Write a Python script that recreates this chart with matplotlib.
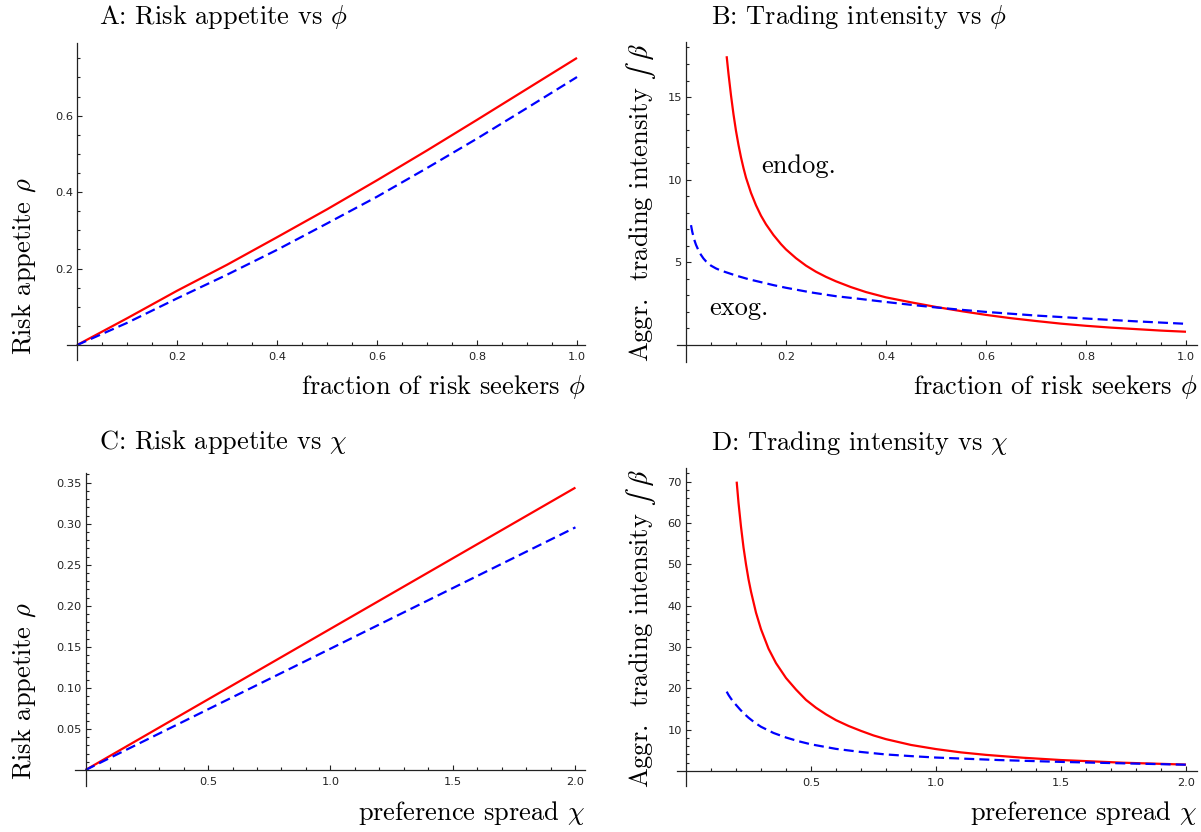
import matplotlib
matplotlib.use("Agg")
import matplotlib.pyplot as plt
from matplotlib.ticker import FixedLocator

plt.rcParams['mathtext.fontset'] = 'cm'

# ---------------- data ----------------
# Panel A: risk appetite vs phi
phi_A = [0.0, 0.1, 0.2, 0.3, 0.4, 0.5, 0.6, 0.7, 0.8, 0.9, 1.0]
rhoA_endog = [0.0, 0.070, 0.142, 0.210, 0.282, 0.355, 0.431, 0.509, 0.589, 0.670, 0.751]
rhoA_exog = [0.0, 0.058, 0.122, 0.184, 0.249, 0.318, 0.388, 0.463, 0.540, 0.620, 0.701]

# Panel B: trading intensity vs phi
phi_B_endog = [0.0813, 0.085, 0.09, 0.095, 0.10, 0.105, 0.11, 0.115, 0.12, 0.13, 0.14,
               0.15, 0.16, 0.175, 0.19, 0.20, 0.22, 0.24, 0.26, 0.28, 0.30, 0.33, 0.36,
               0.40, 0.45, 0.50, 0.55, 0.60, 0.65, 0.70, 0.75, 0.80, 0.85, 0.90, 0.95, 1.0]
betaB_endog = [17.47, 16.4, 15.1, 13.95, 12.95, 12.1, 11.35, 10.7, 10.12, 9.2, 8.45,
               7.82, 7.3, 6.65, 6.1, 5.78, 5.25, 4.8, 4.43, 4.12, 3.85, 3.5, 3.2,
               2.88, 2.58, 2.30, 2.05, 1.82, 1.62, 1.45, 1.29, 1.16, 1.05, 0.96, 0.87, 0.80]
phi_B_exog = [0.01, 0.0125, 0.015, 0.0175, 0.02, 0.025, 0.03, 0.035, 0.04, 0.05, 0.06,
              0.07, 0.08, 0.10, 0.125, 0.15, 0.175, 0.20, 0.25, 0.30, 0.35, 0.40, 0.45,
              0.50, 0.55, 0.60, 0.70, 0.80, 0.90, 1.0]
betaB_exog = [7.25, 6.85, 6.55, 6.28, 6.06, 5.72, 5.45, 5.23, 5.06, 4.80, 4.63,
              4.50, 4.40, 4.20, 3.98, 3.80, 3.62, 3.46, 3.18, 2.95, 2.78, 2.60, 2.43,
              2.27, 2.13, 2.00, 1.78, 1.60, 1.43, 1.28]

# Panel C: risk appetite vs chi
chi_C = [0.0, 0.5, 1.0, 1.5, 2.0]
rhoC_endog = [0.0, 0.086, 0.172, 0.258, 0.344]
rhoC_exog = [0.0, 0.0739, 0.1478, 0.2217, 0.2956]

# Panel D: trading intensity vs chi
chi_D_endog = [0.2027, 0.21, 0.22, 0.23, 0.24, 0.25, 0.26, 0.28, 0.30, 0.33, 0.36, 0.40,
               0.44, 0.48, 0.52, 0.56, 0.60, 0.65, 0.70, 0.75, 0.80, 0.90, 1.0, 1.1,
               1.2, 1.35, 1.5, 1.75, 2.0]
betaD_endog = [70.0, 64.9, 59.1, 54.1, 50.0, 46.4, 43.4, 38.3, 34.3, 29.6, 26.1, 22.5,
               19.7, 17.2, 15.3, 13.7, 12.3, 10.9, 9.7, 8.6, 7.7, 6.3, 5.3, 4.5,
               3.9, 3.2, 2.65, 2.0, 1.55]
chi_D_exog = [0.1627, 0.17, 0.18, 0.19, 0.20, 0.216, 0.23, 0.25, 0.275, 0.30, 0.35, 0.40,
              0.45, 0.50, 0.60, 0.70, 0.80, 0.90, 1.0, 1.25, 1.5, 1.75, 2.0]
betaD_exog = [19.2, 18.4, 17.5, 16.7, 16.0, 14.9, 14.0, 12.9, 11.7, 10.7, 9.2, 8.1,
              7.2, 6.45, 5.35, 4.6, 4.0, 3.6, 3.25, 2.65, 2.2, 1.85, 1.52]

# ticks
xticks_phi = [0.2, 0.4, 0.6, 0.8, 1.0]
xticklabels_phi = ["0.2", "0.4", "0.6", "0.8", "1.0"]
xticks_chi = [0.5, 1.0, 1.5, 2.0]
xticklabels_chi = ["0.5", "1.0", "1.5", "2.0"]
yticks_A = [0.2, 0.4, 0.6]
yticklabels_A = ["0.2", "0.4", "0.6"]
yticks_B = [5, 10, 15]
yticklabels_B = ["5", "10", "15"]
yticks_C = [0.05, 0.10, 0.15, 0.20, 0.25, 0.30, 0.35]
yticklabels_C = ["0.05", "0.10", "0.15", "0.20", "0.25", "0.30", "0.35"]
yticks_D = [10, 20, 30, 40, 50, 60, 70]
yticklabels_D = ["10", "20", "30", "40", "50", "60", "70"]

titles = [r"A: Risk appetite vs $\phi$", r"B: Trading intensity vs $\phi$",
          r"C: Risk appetite vs $\chi$", r"D: Trading intensity vs $\chi$"]
ylab_rho = r"Risk appetite $\rho$"
ylab_beta = r"Aggr.  trading intensity $\int$ $\beta$"
xlab_phi = r"fraction of risk seekers $\phi$"
xlab_chi = r"preference spread $\chi$"
annot_endog = "endog."
annot_exog = "exog."

# ---------------- figure ----------------
W, H = 1201, 832
fig = plt.figure(figsize=(W / 100, H / 100), dpi=100)
SERIF = 'cmr10'
TFS = 19
TICKFONT = 'DejaVu Sans'
TICKFS = 8.2

RED = (1, 0, 0)
BLUE = (0, 0, 1)
LW = 1.6
DASH = (4.5, 2.3)
AXC = '#222222'


def make_axes(l, r, t, b):
    return fig.add_axes([l / W, 1 - b / H, (r - l) / W, (b - t) / H])


def style(ax, xlim, ylim, xmaj, xmajlab, xmin, ymaj, ymajlab, ymin):
    ax.set_xlim(*xlim)
    ax.set_ylim(*ylim)
    for s in ['top', 'right']:
        ax.spines[s].set_visible(False)
    ax.spines['left'].set_position(('data', 0))
    ax.spines['bottom'].set_position(('data', 0))
    for s in ['left', 'bottom']:
        ax.spines[s].set_color(AXC)
        ax.spines[s].set_linewidth(0.9)
    ax.xaxis.set_major_locator(FixedLocator(xmaj))
    ax.set_xticklabels(xmajlab)
    ax.xaxis.set_minor_locator(FixedLocator(xmin))
    ax.yaxis.set_major_locator(FixedLocator(ymaj))
    ax.set_yticklabels(ymajlab)
    ax.yaxis.set_minor_locator(FixedLocator(ymin))
    ax.tick_params(which='both', direction='in', color=AXC, width=0.8)
    ax.tick_params(which='major', length=3.8)
    ax.tick_params(which='minor', length=2.3)
    ax.tick_params(axis='x', which='major', pad=5.2)
    ax.tick_params(axis='y', which='major', pad=3.0)
    for lab in ax.get_xticklabels() + ax.get_yticklabels():
        lab.set_fontfamily(TICKFONT)
        lab.set_fontsize(TICKFS)
        lab.set_color(AXC)
    ax.patch.set_alpha(0)


def minors(step, top, majors):
    vals = []
    k = 1
    while k * step <= top + 1e-9:
        v = round(k * step, 6)
        if all(abs(v - m) > 1e-9 for m in majors):
            vals.append(v)
        k += 1
    return vals


# Panel A
axA = make_axes(67, 585, 43, 360)
style(axA, (-0.02, 1.016), (-0.039, 0.79), xticks_phi, xticklabels_phi,
      minors(0.05, 1.0, xticks_phi), yticks_A, yticklabels_A, minors(0.05, 0.78, yticks_A))
axA.plot(phi_A, rhoA_endog, color=RED, lw=LW, solid_capstyle='butt')
axA.plot(phi_A, rhoA_exog, color=BLUE, lw=LW, dashes=DASH)

# Panel B
axB = make_axes(677, 1197, 42, 362)
style(axB, (-0.018, 1.022), (-1.03, 18.33), xticks_phi, xticklabels_phi,
      minors(0.05, 1.0, xticks_phi), yticks_B, yticklabels_B, minors(1, 18, yticks_B))
axB.plot(phi_B_endog, betaB_endog, color=RED, lw=LW, solid_capstyle='butt')
axB.plot(phi_B_exog, betaB_exog, color=BLUE, lw=LW, dashes=DASH)
axB.text(0.151, 10.8, annot_endog, family=SERIF, fontsize=TFS, ha='left', va='center')
axB.text(0.047, 2.2, annot_exog, family=SERIF, fontsize=TFS, ha='left', va='center')

# Panel C
axC = make_axes(75, 585, 473, 786)
style(axC, (-0.043, 2.039), (-0.0195, 0.3618), xticks_chi, xticklabels_chi,
      minors(0.1, 2.0, xticks_chi), yticks_C, yticklabels_C, minors(0.01, 0.36, yticks_C))
axC.plot(chi_C, rhoC_endog, color=RED, lw=LW, solid_capstyle='butt')
axC.plot(chi_C, rhoC_exog, color=BLUE, lw=LW, dashes=DASH)

# Panel D
axD = make_axes(677, 1197, 468, 786)
style(axD, (-0.036, 2.044), (-3.63, 73.3), xticks_chi, xticklabels_chi,
      minors(0.1, 2.0, xticks_chi), yticks_D, yticklabels_D, minors(2, 72, yticks_D))
axD.plot(chi_D_endog, betaD_endog, color=RED, lw=LW, solid_capstyle='butt')
axD.plot(chi_D_exog, betaD_exog, color=BLUE, lw=LW, dashes=DASH)


# titles and labels (figure pixel coordinates)
def ftext(x, y, s, **kw):
    fig.text(x / W, 1 - y / H, s, family=SERIF, fontsize=TFS, **kw)


ftext(99, 17, titles[0], ha='left', va='center')
ftext(711, 17, titles[1], ha='left', va='center')
ftext(99, 442, titles[2], ha='left', va='center')
ftext(711, 443, titles[3], ha='left', va='center')

ftext(585, 387, xlab_phi, ha='right', va='center')
ftext(1197, 387, xlab_phi, ha='right', va='center')
ftext(585, 813, xlab_chi, ha='right', va='center')
ftext(1197, 813, xlab_chi, ha='right', va='center')

ftext(24, 355, ylab_rho, rotation=90, ha='center', va='bottom')
ftext(641, 362, ylab_beta, rotation=90, ha='center', va='bottom', math_fontfamily='stix')
ftext(24, 780, ylab_rho, rotation=90, ha='center', va='bottom')
ftext(641, 788, ylab_beta, rotation=90, ha='center', va='bottom', math_fontfamily='stix')

fig.savefig("out.png", dpi=100)
